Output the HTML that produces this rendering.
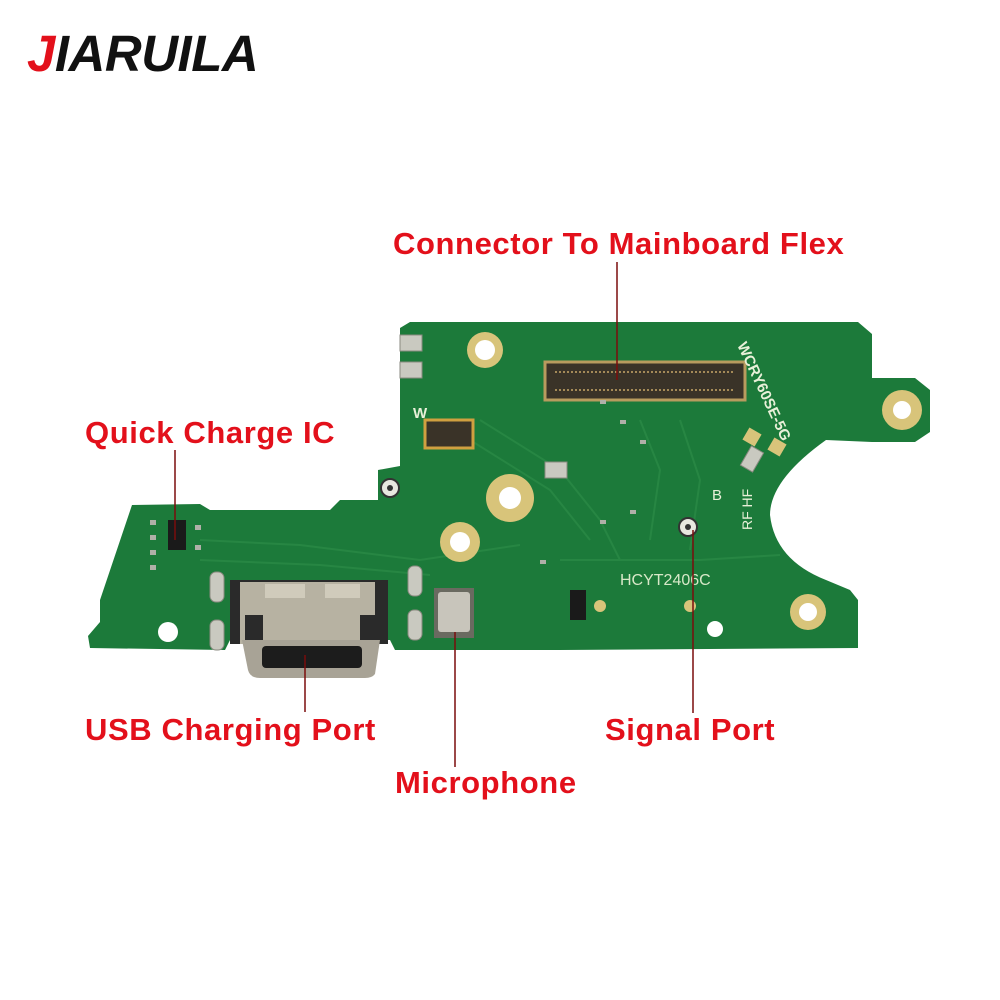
<!DOCTYPE html>
<html><head><meta charset="utf-8"><style>
body{margin:0;background:#fff;}
.wrap{position:relative;width:1000px;height:1000px;overflow:hidden;font-family:"Liberation Sans",sans-serif;}
.lbl{position:absolute;color:#e3101b;font-weight:bold;font-size:31px;white-space:nowrap;letter-spacing:0.6px;}
</style></head><body><div class="wrap">
<svg width="1000" height="1000" style="position:absolute;left:0;top:0">
<path d="M400,328 L410,322 L858,322 L872,334 L872,378 L915,378 L930,390 L930,432 L915,442 L872,442 L826,440 Q770,480 770,515 Q775,560 826,580 L850,590 L858,600 L858,648 L560,650 L395,650 L390,640 L230,640 L225,650 L90,648 L88,636 L100,622 L100,600 L132,505 L200,504 L210,510 L330,510 L340,500 L378,500 L378,470 L400,466 Z" fill="#1c7a3a"/>
<g stroke="#2a8a46" stroke-width="2" fill="none" opacity="0.8">
<path d="M480,420 L560,470 L600,520 L620,560"/><path d="M470,440 L550,490 L590,540"/>
<path d="M640,420 L660,470 L650,540"/><path d="M680,420 L700,480 L690,550"/>
<path d="M200,540 L300,545 L420,560 L520,545"/><path d="M200,560 L320,565 L430,575"/>
<path d="M560,560 L700,560 L780,555"/>
</g>
<g fill="#d8c47a">
<circle cx="510" cy="498" r="24"/><circle cx="460" cy="542" r="20"/><circle cx="485" cy="350" r="18"/>
<circle cx="902" cy="410" r="20"/><circle cx="808" cy="612" r="18"/><circle cx="600" cy="606" r="6"/><circle cx="690" cy="606" r="6"/>
<rect x="745" y="430" width="14" height="14" transform="rotate(30 752 437)"/><rect x="770" y="440" width="14" height="14" transform="rotate(30 777 447)"/>
</g>
<g fill="#fff">
<circle cx="510" cy="498" r="11"/><circle cx="460" cy="542" r="10"/><circle cx="485" cy="350" r="10"/>
<circle cx="902" cy="410" r="9"/><circle cx="808" cy="612" r="9"/><circle cx="168" cy="632" r="10"/><circle cx="715" cy="629" r="8"/>
</g>
<g fill="#c9c9c0" stroke="#8a8a80">
<rect x="400" y="335" width="22" height="16"/><rect x="400" y="362" width="22" height="16"/>
<rect x="210" y="572" width="14" height="30" rx="6"/><rect x="210" y="620" width="14" height="30" rx="6"/>
<rect x="408" y="566" width="14" height="30" rx="6"/><rect x="408" y="610" width="14" height="30" rx="6"/>
<rect x="545" y="462" width="22" height="16"/><rect x="745" y="448" width="14" height="22" transform="rotate(30 752 459)"/>
</g>
<rect x="545" y="362" width="200" height="38" fill="#3a3328" stroke="#b89b5e" stroke-width="3"/>
<g stroke="#c8a868" stroke-width="1.5"><path d="M555,372 H735 M555,390 H735" stroke-dasharray="2 2"/></g>
<rect x="425" y="420" width="48" height="28" fill="#3a3328" stroke="#d0a040" stroke-width="3"/>
<g fill="#e8e8e0" stroke="#333" stroke-width="2"><circle cx="390" cy="488" r="9"/><circle cx="688" cy="527" r="9"/></g>
<g fill="#333"><circle cx="390" cy="488" r="3"/><circle cx="688" cy="527" r="3"/></g>
<rect x="168" y="520" width="18" height="30" fill="#1a1a1a"/>
<rect x="570" y="590" width="16" height="30" fill="#1a1a1a"/>
<g fill="#b0b0a8"><rect x="150" y="520" width="6" height="5"/><rect x="150" y="535" width="6" height="5"/><rect x="150" y="550" width="6" height="5"/><rect x="195" y="525" width="6" height="5"/><rect x="195" y="545" width="6" height="5"/><rect x="150" y="565" width="6" height="5"/>
<rect x="600" y="400" width="6" height="4"/><rect x="620" y="420" width="6" height="4"/><rect x="640" y="440" width="6" height="4"/><rect x="600" y="520" width="6" height="4"/><rect x="630" y="510" width="6" height="4"/><rect x="540" y="560" width="6" height="4"/></g>
<rect x="230" y="580" width="158" height="64" fill="#2a2a2a"/>
<rect x="240" y="582" width="135" height="62" fill="#b7b2a2"/>
<rect x="265" y="584" width="40" height="14" fill="#d0cbbb"/><rect x="325" y="584" width="35" height="14" fill="#d0cbbb"/>
<rect x="245" y="615" width="18" height="28" fill="#2a2a2a"/><rect x="360" y="615" width="18" height="28" fill="#2a2a2a"/>
<path d="M242,640 H380 L375,674 Q372,678 365,678 H260 Q250,678 248,670 Z" fill="#a8a396"/>
<rect x="262" y="646" width="100" height="22" rx="4" fill="#1c1c1c"/>
<rect x="434" y="588" width="40" height="50" fill="#6a6a60"/>
<rect x="438" y="592" width="32" height="40" rx="3" fill="#c8c5bb"/>
<text x="620" y="585" font-family="Liberation Sans" font-size="16" fill="#d8e8c8">HCYT2406C</text>
<text x="737" y="345" font-family="Liberation Sans" font-weight="bold" font-size="15" fill="#e8f0d8" transform="rotate(65 737 345)">WCRY60SE-5G</text>
<text x="712" y="500" font-size="15" fill="#e8f0d8" font-family="Liberation Sans">B</text>
<text x="413" y="418" font-size="15" font-weight="bold" fill="#e8f0d8" font-family="Liberation Sans">W</text>
<text x="752" y="530" font-size="14" fill="#e8f0d8" font-family="Liberation Sans" transform="rotate(-90 752 530)">RF HF</text>
<g stroke="#7a0c0c" stroke-width="1.5">
<line x1="617" y1="262" x2="617" y2="380"/><line x1="175" y1="450" x2="175" y2="540"/>
<line x1="305" y1="655" x2="305" y2="712"/><line x1="455" y1="632" x2="455" y2="767"/><line x1="693" y1="530" x2="693" y2="713"/>
</g>
</svg>
<div style="position:absolute;left:27px;top:24px;font-family:'Liberation Sans',sans-serif;font-weight:bold;font-style:italic;font-size:51px;letter-spacing:-0.5px;"><span style="color:#e3101b">J</span><span style="color:#111">IARUILA</span></div>
<div class="lbl" style="left:393px;top:226px">Connector To Mainboard Flex</div>
<div class="lbl" style="left:85px;top:415px">Quick Charge IC</div>
<div class="lbl" style="left:85px;top:712px">USB Charging Port</div>
<div class="lbl" style="left:605px;top:712px">Signal Port</div>
<div class="lbl" style="left:395px;top:765px">Microphone</div>
</div></body></html>
